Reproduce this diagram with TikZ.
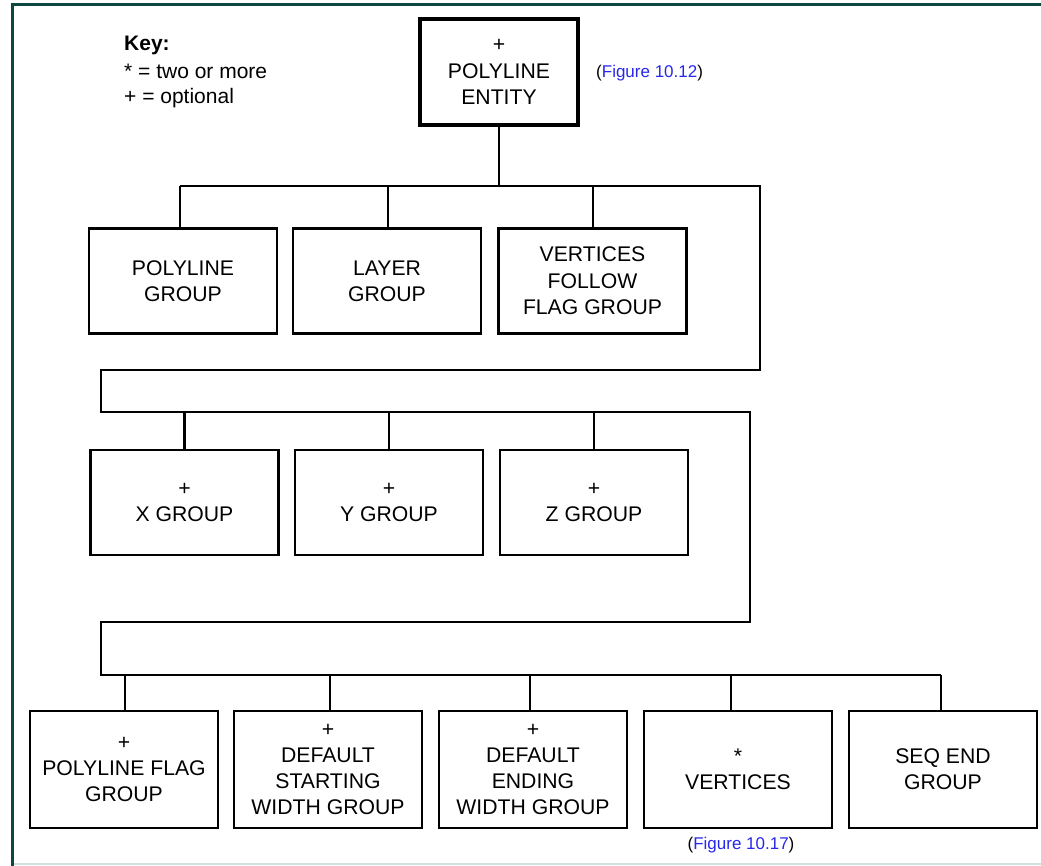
\documentclass[tikz,border=0pt]{standalone}
\usepackage{fontspec}
\setmainfont{Liberation Sans}
\begin{document}
\begin{tikzpicture}[x=1pt,y=-1pt,
  every node/.style={inner sep=0pt, align=center},
  grp/.style={draw, line width=2.6pt, minimum width=188pt, minimum height=105pt,
    font=\fontsize{21.2}{26.3}\selectfont},
  tallgrp/.style={grp, minimum height=117pt},
  topgrp/.style={grp, line width=4.5pt, minimum width=158pt, minimum height=106pt},
  wire/.style={line width=2.6pt, line join=miter},
  figref/.style={text=figblue, font=\fontsize{17}{20}\selectfont},
  keytext/.style={anchor=west, font=\fontsize{21}{26.3}\selectfont}]
\definecolor{framecol}{RGB}{12,72,64}
\definecolor{figblue}{RGB}{40,40,235}
\definecolor{edgegrey}{RGB}{212,224,220}
\useasboundingbox (0,0) rectangle (1041,866);
\fill[white] (0,0) rectangle (1041,866);

% page frame
\draw[edgegrey, line width=1.5pt] (12,864) -- (1041,864);
\draw[framecol, line width=3pt] (12,866) -- (12,5) -- (1041,5);

% key
\node[keytext] (keyhead) at (124,45) {\textbf{Key:}};
\node[keytext] (keystar) at (124,71) {* = two or more};
\node[keytext] (keyplus) at (124,98) {+ = optional};

% root entity
\node[topgrp] (root) at (499,72) {+\\POLYLINE\\ENTITY};
\node[figref, anchor=west] (ref12) at (596,73) {\textcolor{black}{(}Figure 10.12\textcolor{black}{)}};

% first row
\node[grp] (pgroup) at (183,281) {POLYLINE\\GROUP};
\node[grp] (lgroup) at (387,281) {LAYER\\GROUP};
\node[grp] (vfgroup) at (592.5,281) {VERTICES\\FOLLOW\\FLAG GROUP};

% second row
\node[grp] (xgroup) at (184.5,502.5) {+\\X GROUP};
\node[grp] (ygroup) at (389,502.5) {+\\Y GROUP};
\node[grp] (zgroup) at (594,502.5) {+\\Z GROUP};

% third row
\node[tallgrp] (pfgroup) at (124,769.5) {+\\POLYLINE FLAG\\GROUP};
\node[tallgrp] (dswgroup) at (328,769.5) {+\\DEFAULT\\STARTING\\WIDTH GROUP};
\node[tallgrp] (dewgroup) at (533,769.5) {+\\DEFAULT\\ENDING\\WIDTH GROUP};
\node[tallgrp] (verts) at (738,769.5) {*\\VERTICES};
\node[tallgrp] (seqend) at (943,769.5) {SEQ END\\GROUP};
\node[figref] (ref17) at (741,845) {\textcolor{black}{(}Figure 10.17\textcolor{black}{)}};

% bus corners
\coordinate (busA) at (180,186);
\coordinate (busAr) at (760,186);
\coordinate (busAd) at (760,370);
\coordinate (busBl) at (101,370);
\coordinate (busB) at (101,412);
\coordinate (busBr) at (750,412);
\coordinate (busBd) at (750,622);
\coordinate (busCl) at (101,622);
\coordinate (busC) at (101,675);
\coordinate (busCr) at (941,675);

% buses
\draw[wire] (root.south) -- (root.south |- busA);
\draw[wire] (busA) -- (busAr) -- (busAd) -- (busBl) -- (busB) -- (busBr) -- (busBd) -- (busCl) -- (busC) -- (busCr);

% drops to the first row
\draw[wire] ([xshift=-3pt]pgroup.north) -- ([xshift=-3pt]pgroup.north |- busA);
\draw[wire] ([xshift=1pt]lgroup.north) -- ([xshift=1pt]lgroup.north |- busA);
\draw[wire] ([xshift=0.5pt]vfgroup.north) -- ([xshift=0.5pt]vfgroup.north |- busA);

% drops to the second row
\draw[wire] (xgroup.north) -- (xgroup.north |- busB);
\draw[wire] (ygroup.north) -- (ygroup.north |- busB);
\draw[wire] (zgroup.north) -- (zgroup.north |- busB);

% drops to the third row
\draw[wire] ([xshift=1pt]pfgroup.north) -- ([xshift=1pt]pfgroup.north |- busC);
\draw[wire] ([xshift=2pt]dswgroup.north) -- ([xshift=2pt]dswgroup.north |- busC);
\draw[wire] ([xshift=-3pt]dewgroup.north) -- ([xshift=-3pt]dewgroup.north |- busC);
\draw[wire] ([xshift=-7pt]verts.north) -- ([xshift=-7pt]verts.north |- busC);
\draw[wire] ([xshift=-2pt]seqend.north) -- ([xshift=-2pt]seqend.north |- busC);
\end{tikzpicture}
\end{document}
